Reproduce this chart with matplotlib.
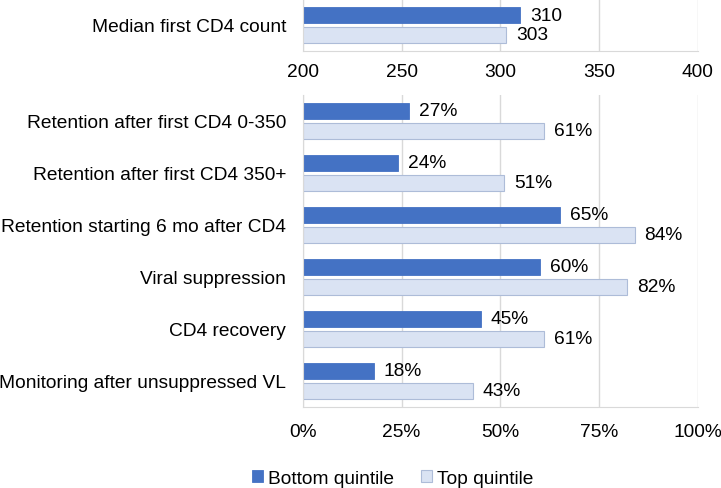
import numpy as np
import matplotlib.pyplot as plt

plt.rcParams['font.family'] = ['Liberation Sans', 'DejaVu Sans']

# Data
top_category = ["Median first CD4 count"]
top_bottom_q = [310]
top_top_q = [303]

categories = [
    "Retention after first CD4 0-350",
    "Retention after first CD4 350+",
    "Retention starting 6 mo after CD4",
    "Viral suppression",
    "CD4 recovery",
    "Monitoring after unsuppressed VL",
]
bottom_q = [27, 24, 65, 60, 45, 18]
top_q = [61, 51, 84, 82, 61, 43]

dark = "#4472C4"
light = "#DAE3F3"
light_edge = "#ADBCD8"
grid_col = "#D9D9D9"
fs = 13.8

fig = plt.figure(figsize=(7.21, 4.89), dpi=100)
ax1 = fig.add_axes([0.420, 0.894, 0.548, 0.106])
ax2 = fig.add_axes([0.420, 0.166, 0.548, 0.638])

h = 0.31
off = 0.19


def style(ax):
    for s in ["top", "right"]:
        ax.spines[s].set_visible(False)
    for s in ["left", "bottom"]:
        ax.spines[s].set_color(grid_col)
    ax.grid(axis="x", color=grid_col, linewidth=1)
    ax.set_axisbelow(True)
    ax.tick_params(axis="both", length=0, labelsize=fs)
    ax.tick_params(axis="y", pad=12)


# top panel
y1 = np.arange(len(top_category))
ax1.barh(y1 - off, top_bottom_q, height=h, color=dark, edgecolor=dark, linewidth=0.6)
ax1.barh(y1 + off, top_top_q, height=h, color=light, edgecolor=light_edge, linewidth=0.8)
ax1.set_xlim(200, 400)
ax1.set_ylim(0.5, -0.5)
ax1.set_xticks([200, 250, 300, 350, 400])
ax1.set_yticks(y1)
ax1.set_yticklabels(top_category)
for yy, v in zip(y1, top_bottom_q):
    ax1.text(v + 5, yy - off, f"{v}", va="center", ha="left", fontsize=fs)
for yy, v in zip(y1, top_top_q):
    ax1.text(v + 5, yy + off, f"{v}", va="center", ha="left", fontsize=fs)
style(ax1)
ax1.tick_params(axis="x", pad=9)

# bottom panel
y2 = np.arange(len(categories))
ax2.barh(y2 - off, bottom_q, height=h, color=dark, edgecolor=dark, linewidth=0.6, label="Bottom quintile")
ax2.barh(y2 + off, top_q, height=h, color=light, edgecolor=light_edge, linewidth=0.8, label="Top quintile")
ax2.set_xlim(0, 100)
ax2.set_ylim(len(categories) - 0.5, -0.5)
ax2.set_xticks([0, 25, 50, 75, 100])
ax2.set_xticklabels(["0%", "25%", "50%", "75%", "100%"])
ax2.set_yticks(y2)
ax2.set_yticklabels(categories)
for yy, v in zip(y2, bottom_q):
    ax2.text(v + 2.5, yy - off, f"{v}%", va="center", ha="left", fontsize=fs)
for yy, v in zip(y2, top_q):
    ax2.text(v + 2.5, yy + off, f"{v}%", va="center", ha="left", fontsize=fs)
style(ax2)
ax2.tick_params(axis="x", pad=12)

fig.legend(loc="center", bbox_to_anchor=(0.545, 0.02), ncol=2, frameon=False,
           fontsize=fs, handlelength=0.55, handleheight=0.55, handletextpad=0.3, columnspacing=1.4)

fig.savefig("out.png", dpi=100)
